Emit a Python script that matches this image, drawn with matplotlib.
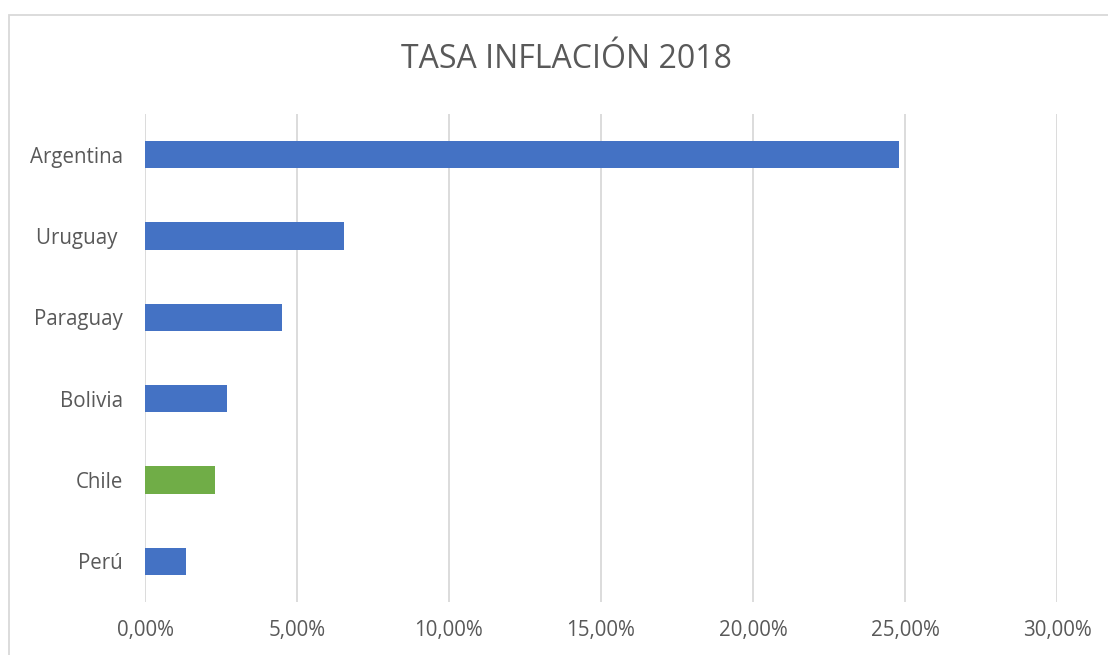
import matplotlib
matplotlib.use("Agg")
import matplotlib.pyplot as plt
from matplotlib.patches import Rectangle
from matplotlib.ticker import FuncFormatter

countries = ["Argentina", "Uruguay ", "Paraguay", "Bolivia", "Chile", "Perú"]
values = [24.80, 6.55, 4.51, 2.70, 2.30, 1.35]
colors = ["#4472C4", "#4472C4", "#4472C4", "#4472C4", "#70AD47", "#4472C4"]
xticks = [0, 5, 10, 15, 20, 25, 30]

plt.rcParams['font.family'] = ['Open Sans', 'DejaVu Sans']

fig = plt.figure(figsize=(11.08, 6.55), dpi=100)
ax = fig.add_axes([145/1108, 53/655, 912/1108, 488/655])

ypos = list(range(len(countries)))[::-1]
ax.barh(ypos, values, height=0.34, color=colors, zorder=3)
ax.set_xlim(0, 30)
ax.set_ylim(-0.5, len(countries) - 0.5)
ax.set_yticks(ypos)
ax.set_yticklabels(countries)
ax.set_xticks(xticks)
ax.xaxis.set_major_formatter(FuncFormatter(lambda v, p: f"{v:.2f}%".replace(".", ",")))
ax.grid(axis='x', color='#D9D9D9', linewidth=1.3, zorder=0)
for s in ax.spines.values():
    s.set_visible(False)
ax.tick_params(axis='both', length=0, labelsize=14.8, labelcolor='#595959')
ax.tick_params(axis='y', pad=16)
ax.tick_params(axis='x', pad=13)

fig.text(566/1108, 1 - 59/655, "TASA INFLACIÓN 2018", ha='center', va='center',
         fontsize=23, color='#595959')

fig.patches.append(Rectangle((8.5/1108, -0.1), 1.2, 1 - 14.5/655 + 0.1,
                             transform=fig.transFigure, fill=False,
                             edgecolor='#D9D9D9', linewidth=1.3))

fig.savefig("out.png", dpi=100)
